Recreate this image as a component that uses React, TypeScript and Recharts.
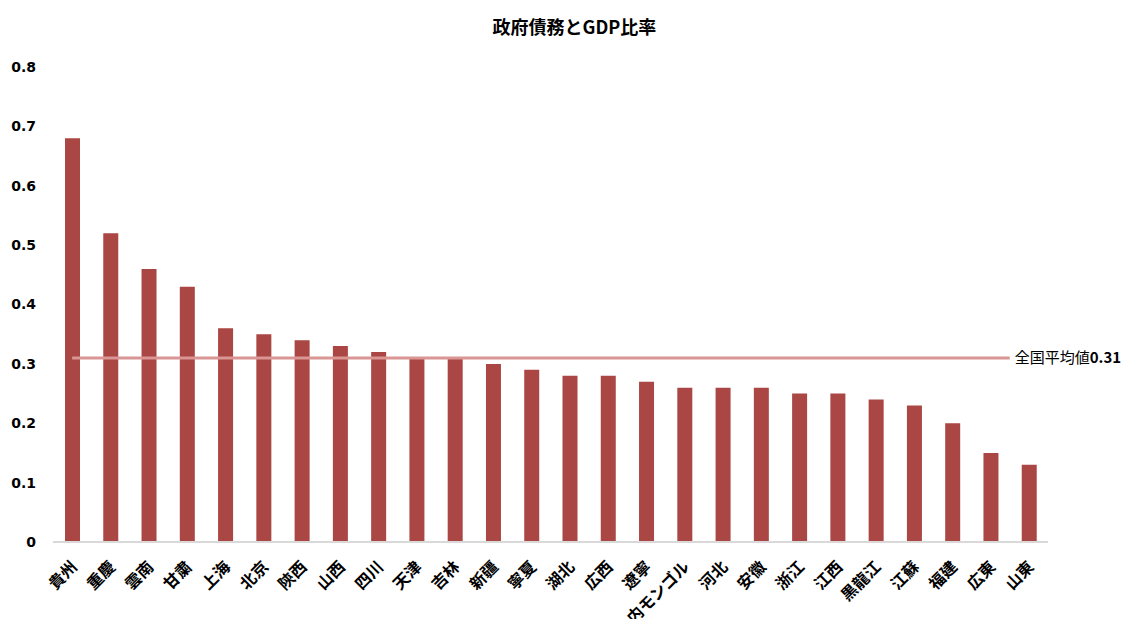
import { ComposedChart, Bar, XAxis, YAxis, ReferenceLine } from 'recharts';

const provinces = [
  '貴州', '重慶', '雲南', '甘粛', '上海', '北京', '陝西', '山西', '四川', '天津',
  '吉林', '新疆', '寧夏', '湖北', '広西', '遼寧', '内モンゴル', '河北', '安徽', '浙江',
  '江西', '黒龍江', '江蘇', '福建', '広東', '山東',
];
const debtRatio = [
  0.68, 0.52, 0.46, 0.43, 0.36, 0.35, 0.34, 0.33, 0.32, 0.31,
  0.31, 0.30, 0.29, 0.28, 0.28, 0.27, 0.26, 0.26, 0.26, 0.25,
  0.25, 0.24, 0.23, 0.20, 0.15, 0.13,
];
const yTicks = [0, 0.1, 0.2, 0.3, 0.4, 0.5, 0.6, 0.7, 0.8];
const nationalAvg = 0.31;

const data = provinces.map((name, i) => ({ name, ratio: debtRatio[i] }));

const CJK = '"Noto Sans CJK JP", "Noto Sans", sans-serif';

const XTick = (props: any) => {
  const { x, y, payload } = props;
  return (
    <g transform={`translate(${x + 6},${y + 18})`}>
      <text
        transform="rotate(-45)"
        textAnchor="end"
        fontFamily={CJK}
        fontWeight="bold"
        fontSize={16}
        fill="#000"
      >
        {payload.value}
      </text>
    </g>
  );
};

// line stops half a category past 広東, label follows it
const AvgLine = (props: any) => {
  const { x1, y1, x2 } = props;
  const band = (x2 - x1) / (provinces.length - 2);
  const end = x2 + band / 2;
  return (
    <g>
      <line x1={x1} y1={y1} x2={end} y2={y1} stroke="#D99694" strokeWidth={3} />
      <text x={end + 5} y={y1 + 5} fontFamily={CJK} fontSize={15} fill="#000">
        全国平均値<tspan fontWeight="bold">{nationalAvg}</tspan>
      </text>
    </g>
  );
};

export default function App() {
  return (
    <div style={{ position: 'absolute', left: 0, top: 0, width: 1137, height: 619, background: '#fff' }}>
      <div
        style={{
          position: 'absolute',
          left: 6,
          top: 13,
          width: 1137,
          textAlign: 'center',
          fontFamily: CJK,
          fontWeight: 'bold',
          fontSize: 18,
          color: '#000',
        }}
      >
        政府債務とGDP比率
      </div>
      <ComposedChart
        width={1137}
        height={619}
        data={data}
        margin={{ top: 67, right: 89, bottom: 0, left: 0 }}
      >
        <XAxis
          dataKey="name"
          interval={0}
          height={77}
          tickLine={false}
          axisLine={{ stroke: '#d9d9d9', strokeWidth: 2 }}
          tick={<XTick />}
        />
        <YAxis
          width={53}
          domain={[0, 0.8]}
          ticks={yTicks}
          tickLine={false}
          axisLine={false}
          tickMargin={11}
          tickFormatter={(v: number) => (v === 0 ? '0' : v.toFixed(1))}
          tick={{ fill: '#000', fontSize: 14, fontWeight: 'bold', fontFamily: 'DejaVu Sans, sans-serif' }}
        />
        <Bar dataKey="ratio" fill="#AA4643" barSize={15} isAnimationActive={false} />
        <ReferenceLine
          segment={[
            { x: provinces[0], y: nationalAvg },
            { x: provinces[provinces.length - 2], y: nationalAvg },
          ]}
          shape={<AvgLine />}
          ifOverflow="visible"
        />
      </ComposedChart>
    </div>
  );
}
